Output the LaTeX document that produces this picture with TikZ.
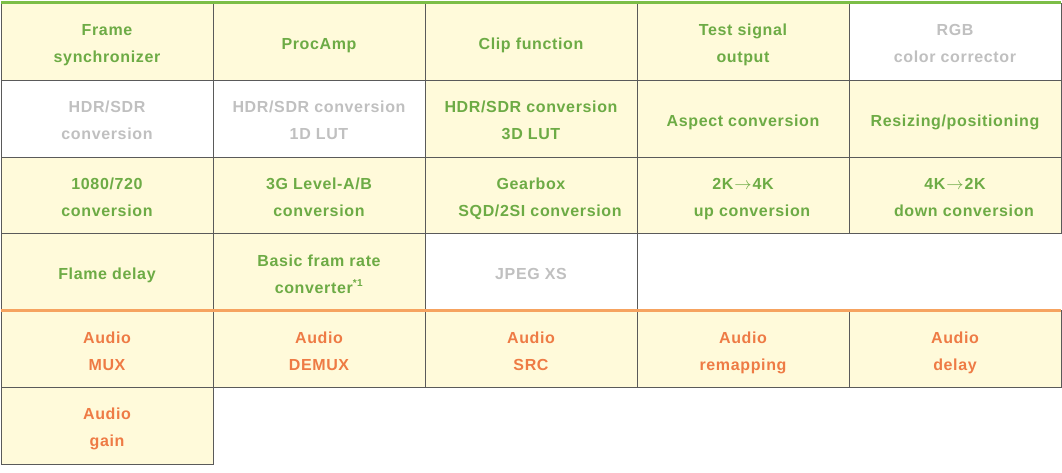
\documentclass[tikz,border=0pt]{standalone}
\usepackage{fontspec}
\setmainfont{Liberation Sans}[LetterSpace=4]
\usetikzlibrary{positioning}
\definecolor{cream}{HTML}{FFFADA}
\definecolor{cellline}{HTML}{5A5A5A}
\definecolor{videogreen}{HTML}{6DAB45}
\definecolor{greenbar}{HTML}{7CBE47}
\definecolor{audioorange}{HTML}{EE7B45}
\definecolor{orangebar}{HTML}{F6A360}
\definecolor{offgray}{HTML}{C0C0C0}
\newcommand\toarrow{\kern1pt$\rightarrow$\kern1pt}
\newcommand\celltext[1]{\vbox{\kern4pt\hbox{\begin{tabular}{@{}c@{}}#1\end{tabular}}}}
\tikzset{
  cell/.style={draw=cellline, line width=1pt, outer sep=0pt, inner sep=0pt,
    minimum width=212pt, minimum height=76.8pt,
    font=\fontsize{16}{27}\selectfont\bfseries},
  video/.style={cell, fill=cream, text=videogreen},
  unused/.style={cell, fill=white, text=offgray},
  audio/.style={cell, fill=cream, text=audioorange},
}

\begin{document}
\begin{tikzpicture}[x=1pt,y=-1pt]
\useasboundingbox (0,0) rectangle (1062,472);
% video functions
\node[video] (fsync) at (107,41.9) {\celltext{Frame\\synchronizer}};
\node[video, right=0pt of fsync] (procamp) {\celltext{ProcAmp}};
\node[video, right=0pt of procamp] (clip) {\celltext{Clip function}};
\node[video, right=0pt of clip] (testsig) {\celltext{Test signal\\output}};
\node[unused, right=0pt of testsig] (rgbcc) {\celltext{RGB\\color corrector}};

\node[unused, below=0pt of fsync] (hdrsdr) {\celltext{HDR/SDR\\conversion}};
\node[unused, right=0pt of hdrsdr] (lutone) {\celltext{HDR/SDR conversion\\1D LUT}};
\node[video, right=0pt of lutone] (lutthree) {\celltext{HDR/SDR conversion\\3D LUT}};
\node[video, right=0pt of lutthree] (aspect) {\celltext{Aspect conversion}};
\node[video, right=0pt of aspect] (resize) {\celltext{Resizing/positioning}};

\node[video, below=0pt of hdrsdr] (hdconv) {\celltext{1080/720\\conversion}};
\node[video, right=0pt of hdconv] (levelab) {\celltext{3G Level-A/B\\conversion}};
\node[video, right=0pt of levelab] (gearbox) {\celltext{Gearbox\\\hspace*{18pt}SQD/2SI conversion}};
\node[video, right=0pt of gearbox] (upconv) {\celltext{2K\toarrow4K\\\hspace*{18pt}up conversion}};
\node[video, right=0pt of upconv] (downconv) {\celltext{4K\toarrow2K\\\hspace*{18pt}down conversion}};

\node[video, below=0pt of hdconv] (fdelay) {\celltext{Flame delay}};
\node[video, right=0pt of fdelay] (fratec) {\celltext{Basic fram rate\\converter\textsuperscript{\fontsize{10}{10}\selectfont *1}}};
\node[unused, right=0pt of fratec] (jpegxs) {\celltext{JPEG XS}};

% audio functions
\node[audio, below=0pt of fdelay] (amux) {\celltext{Audio\\MUX}};
\node[audio, right=0pt of amux] (ademux) {\celltext{Audio\\DEMUX}};
\node[audio, right=0pt of ademux] (asrc) {\celltext{Audio\\SRC}};
\node[audio, right=0pt of asrc] (aremap) {\celltext{Audio\\remapping}};
\node[audio, right=0pt of aremap] (adelay) {\celltext{Audio\\delay}};

\node[audio, below=0pt of amux] (again) {\celltext{Audio\\gain}};

% group bars
\draw[greenbar, line width=3.3pt] ([yshift=0.8pt]fsync.north west) -- ([yshift=0.8pt]rgbcc.north east);
\draw[orangebar, line width=3.3pt] (amux.north west) -- (adelay.north east);
\end{tikzpicture}
\end{document}
